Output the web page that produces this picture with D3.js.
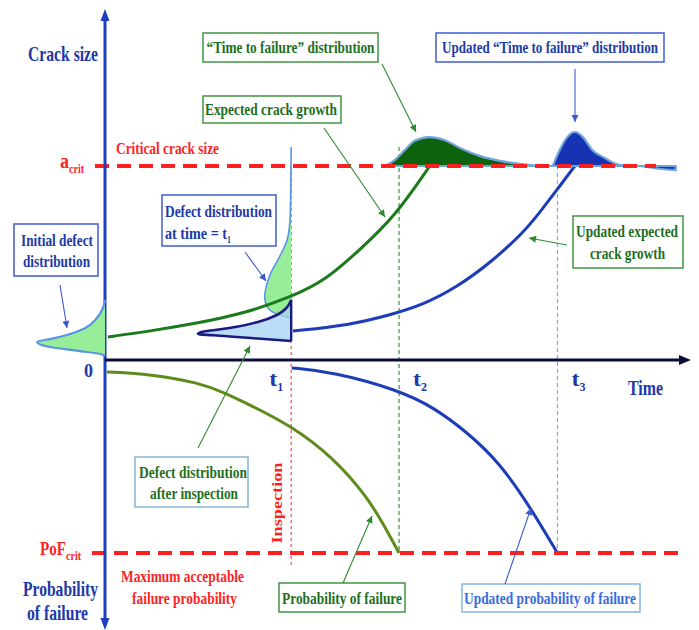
<!DOCTYPE html>
<html><head><meta charset="utf-8">
<script src="https://cdn.jsdelivr.net/npm/d3@7"></script>
<style>
body{margin:0;background:#fff}
svg{display:block}
</style>
</head><body><svg id="c" width="699" height="630"></svg>
<script>
// ================= DATA =================
const timeMarks  = [32.1, 50.7, 78.0];      // t1 (inspection), t2, t3
const timeSubs   = ["1", "2", "3"];
const aCrit = 1.0, pofCrit = 1.0;

// expected crack growth (time, crack size relative to a_crit)
const crackTime = [0.5, 8, 16, 24, 32.1, 38, 44, 50, 56];
const crackSize = [0.119, 0.15, 0.19, 0.24, 0.325, 0.41, 0.57, 0.74, 1.0];
// updated expected crack growth
const updCrackTime = [32.4, 42.2, 49.1, 54.8, 60.7, 66.4, 72.1, 75.0, 77.9, 81.0];
const updCrackSize = [0.149, 0.180, 0.232, 0.284, 0.376, 0.500, 0.655, 0.763, 0.876, 1.0];
// probability of failure (relative to PoF_crit)
const pofTime  = [0.34, 7.76, 16.4, 20.7, 25.0, 31.9, 39.3, 45.2, 47.9, 50.7];
const pofValue = [0.062, 0.073, 0.119, 0.171, 0.233, 0.337, 0.503, 0.71, 0.845, 1.0];
// updated probability of failure
const updPofTime  = [32.2, 39.3, 50.5, 56.6, 62.4, 68.1, 73.3, 78.0];
const updPofValue = [0.041, 0.062, 0.155, 0.244, 0.373, 0.534, 0.762, 1.0];

// initial defect distribution (crack size, density)
const initDefSize = [0.021, 0.031, 0.046, 0.067, 0.093, 0.113, 0.139, 0.165, 0.216, 0.268, 0.309];
const initDefDens = [0, 0.07, 0.37, 0.81, 1.0, 0.74, 0.47, 0.29, 0.12, 0.03, 0];
// defect distribution at time t1
const t1DefSize = [0.216, 0.232, 0.273, 0.325, 0.387, 0.448, 0.526, 0.619, 0.722, 0.876, 1.098];
const t1DefDens = [0, 0.17, 0.35, 0.39, 0.36, 0.3, 0.18, 0.06, 0.018, 0.006, 0];
// defect distribution after inspection
const inspDefSize = [0.098, 0.113, 0.124, 0.134, 0.144, 0.155, 0.170, 0.196, 0.232, 0.268, 0.309];
const inspDefDens = [0, 0.59, 0.99, 1.37, 1.32, 1.12, 0.82, 0.49, 0.21, 0.07, 0];
// time to failure distribution
const ttfTime = [48.3, 50.0, 51.7, 53.4, 55.9, 58.6, 61.2, 64.7, 68.1, 71.6, 75.9, 77.2];
const ttfDens = [0, 0.18, 0.47, 0.74, 0.85, 0.76, 0.53, 0.29, 0.15, 0.06, 0, 0];
// updated time to failure distribution
const updTtfTime = [77.2, 78.4, 79.7, 81.0, 82.4, 84.0, 85.9, 88.8, 92.2, 95.5, 98.4];
const updTtfDens = [0, 0.47, 0.85, 1.0, 0.85, 0.47, 0.26, 0.03, 0, -0.08, -0.12];

// ================= SCALES =================
const svg = d3.select("#c");
const FONT = "'Liberation Serif','DejaVu Serif','Times New Roman',serif";
const x   = d3.scaleLinear().domain([0, 100]).range([105, 685]);     // time
const yA  = d3.scaleLinear().domain([0, aCrit]).range([360, 166]);    // crack size
const yP  = d3.scaleLinear().domain([0, pofCrit]).range([360, 553]);  // probability of failure (downwards)
const wD  = d3.scaleLinear().domain([0, 1]).range([0, 68]);           // defect density width
const hT  = d3.scaleLinear().domain([0, 1]).range([0, 34]);           // ttf density height

const C = {
  axisBlue: "#1c3fc2", navy: "#0c0c38", red: "#ff1f1f",
  green: "#1b7a1b", olive: "#5e8c1a", blue: "#1c3cb8",
  txtBlue: "#2038a8", txtGreen: "#1e6e1e"
};
const zip = (a, b) => a.map((v, i) => [v, b[i]]);

// markers
const defs = svg.append("defs");
function marker(id, color, w, h) {
  defs.append("marker").attr("id", id).attr("viewBox", "0 0 10 10")
    .attr("refX", 10).attr("refY", 5).attr("markerWidth", w).attr("markerHeight", h)
    .attr("markerUnits", "userSpaceOnUse").attr("orient", "auto")
    .append("path").attr("d", "M0,0L10,5L0,10Z").attr("fill", color);
}
marker("mg", "#2e8a2e", 9, 7);
marker("mb", "#3a5ad0", 9, 7);

// ================= VERTICAL MARKER LINES =================
const [t1, t2, t3] = timeMarks;
svg.append("line").attr("x1", x(t1)).attr("x2", x(t1)).attr("y1", yA(aCrit)).attr("y2", 567)
  .attr("stroke", "#ff3a3a").attr("stroke-width", 1.1).attr("stroke-dasharray", "3,3");
svg.append("line").attr("x1", x(t2)).attr("x2", x(t2)).attr("y1", 147).attr("y2", yP(pofCrit))
  .attr("stroke", "#2a8a2a").attr("stroke-width", 1.1).attr("stroke-dasharray", "4,3");
svg.append("line").attr("x1", x(t3)).attr("x2", x(t3)).attr("y1", yA(aCrit)).attr("y2", yP(pofCrit))
  .attr("stroke", "#7aa6dc").attr("stroke-width", 1.1).attr("stroke-dasharray", "4,3");

// ================= DEFECT DISTRIBUTIONS =================
function vertDist(sizes, dens, base, fill, stroke, sw, fillOp) {
  const pts = zip(sizes, dens);
  const area = d3.area().curve(d3.curveMonotoneY).y(d => yA(d[0])).x0(base).x1(d => base - wD(d[1]));
  const line = d3.line().curve(d3.curveMonotoneY).y(d => yA(d[0])).x(d => base - wD(d[1]));
  svg.append("path").attr("d", area(pts)).attr("fill", fill).attr("fill-opacity", fillOp);
  svg.append("path").attr("d", line(pts)).attr("fill", "none").attr("stroke", stroke).attr("stroke-width", sw);
}
vertDist(t1DefSize, t1DefDens, x(t1), "#98ee98", "#5b93e6", 1.6, 1);
vertDist(inspDefSize, inspDefDens, x(t1), "#a6d2f2", "#1a1a80", 2.6, 0.78);
svg.append("line").attr("x1", x(t1)).attr("x2", x(t1))
  .attr("y1", yA(d3.min(inspDefSize))).attr("y2", yA(0.31))
  .attr("stroke", "#1a1a80").attr("stroke-width", 2.4);

// ================= CURVES =================
const lineA = d3.line().curve(d3.curveBasis).x(d => x(d[0])).y(d => yA(d[1]));
const lineP = d3.line().curve(d3.curveBasis).x(d => x(d[0])).y(d => yP(d[1]));
svg.append("path").attr("d", lineA(zip(crackTime, crackSize))).attr("fill", "none").attr("stroke", C.green).attr("stroke-width", 3);
svg.append("path").attr("d", lineA(zip(updCrackTime, updCrackSize))).attr("fill", "none").attr("stroke", C.blue).attr("stroke-width", 3);
svg.append("path").attr("d", lineP(zip(pofTime, pofValue))).attr("fill", "none").attr("stroke", C.olive).attr("stroke-width", 3);
svg.append("path").attr("d", lineP(zip(updPofTime, updPofValue))).attr("fill", "none").attr("stroke", C.blue).attr("stroke-width", 3);

// ================= TIME TO FAILURE DISTRIBUTIONS =================
function horDist(times, dens, fill) {
  const pts = zip(times, dens);
  const base = yA(aCrit);
  const area = d3.area().curve(d3.curveMonotoneX).x(d => x(d[0])).y0(base).y1(d => base - hT(d[1]));
  svg.append("path").attr("d", area(pts)).attr("fill", fill)
    .attr("stroke", "#6fa3dc").attr("stroke-width", 2.2).attr("stroke-linejoin", "round");
}
horDist(ttfTime, ttfDens, "#0e620e");
horDist(updTtfTime, updTtfDens, "#1633b4");

// ================= CRITICAL LEVELS =================
svg.append("line").attr("x1", 95).attr("x2", 656).attr("y1", yA(aCrit)).attr("y2", yA(aCrit))
  .attr("stroke", C.red).attr("stroke-width", 4).attr("stroke-dasharray", "14,8");
svg.append("line").attr("x1", 92).attr("x2", 686).attr("y1", yP(pofCrit)).attr("y2", yP(pofCrit))
  .attr("stroke", C.red).attr("stroke-width", 4).attr("stroke-dasharray", "14,8");

// ================= AXES =================
const x0 = x(0), y0 = yA(0);
svg.append("line").attr("x1", x0).attr("x2", x0).attr("y1", 18).attr("y2", 622)
  .attr("stroke", C.axisBlue).attr("stroke-width", 3);
svg.append("path").attr("d", `M${x0},9L${x0 - 4.5},21L${x0 + 4.5},21Z`).attr("fill", C.axisBlue);
svg.append("path").attr("d", `M${x0},630L${x0 - 4.5},618L${x0 + 4.5},618Z`).attr("fill", C.axisBlue);
svg.append("line").attr("x1", x0).attr("x2", 682).attr("y1", y0).attr("y2", y0)
  .attr("stroke", C.navy).attr("stroke-width", 3.2);
svg.append("path").attr("d", `M691,${y0}L679,${y0 - 5}L679,${y0 + 5}Z`).attr("fill", C.navy);

// initial defect distribution (left of crack-size axis)
vertDist(initDefSize, initDefDens, x0, "#98ee98", "#5b93e6", 2.2, 1);

// ================= TEXT =================
function txt(s, px, py, size, color, width, anchor) {
  const t = svg.append("text").attr("x", px).attr("y", py).attr("font-size", size)
    .attr("font-family", FONT).attr("font-weight", "bold")
    .attr("fill", color).attr("text-anchor", anchor || "start").text(s);
  if (width) t.attr("textLength", width).attr("lengthAdjust", "spacingAndGlyphs");
  return t;
}
// text with a subscript, as one text element
function txtSub(main, sub, px, py, size, subSize, color, mainW, subW, dy) {
  const t = svg.append("text").attr("x", px).attr("y", py)
    .attr("font-family", FONT).attr("font-weight", "bold").attr("fill", color);
  t.append("tspan").attr("font-size", size).attr("textLength", mainW)
    .attr("lengthAdjust", "spacingAndGlyphs").text(main);
  t.append("tspan").attr("font-size", subSize).attr("dy", dy).attr("textLength", subW)
    .attr("lengthAdjust", "spacingAndGlyphs").text(sub);
  return t;
}
function box(x1, y1, w, h, color) {
  svg.append("rect").attr("x", x1).attr("y", y1).attr("width", w).attr("height", h)
    .attr("fill", "#fff").attr("stroke", color).attr("stroke-width", 1.6);
}

// axis titles
txt("Crack size", 28, 61, 21, C.txtBlue, 70);
txt("Probability", 23, 596, 20, C.txtBlue, 75);
txt("of failure", 27, 620, 20, C.txtBlue, 61);
txt("Time", 628, 395, 20, C.txtBlue, 35);
txt("0", 84, 377, 18, C.txtBlue, 9);
timeMarks.forEach((t, i) => {
  const px = x(t) - (i === 0 ? 22 : -14);
  txtSub("t", timeSubs[i], px, 386, 20, 12, C.txtBlue, 8, 6, 5);
});

// critical levels labels
txt("Critical crack size", 116, 154, 16, C.red, 103);
txtSub("a", "crit", 60, 168, 20, 13, C.red, 9, 15, 5);
txtSub("PoF", "crit", 40, 555, 19, 13, C.red, 26, 15, 5);
txt("Maximum acceptable", 182.5, 582, 17, C.red, 123, "middle");
txt("failure probability", 184.5, 604, 17, C.red, 105, "middle");
svg.append("text").attr("transform", `translate(282,503) rotate(-90)`)
  .attr("font-family", FONT).attr("font-weight", "bold")
  .attr("text-anchor", "middle").attr("font-size", 15).attr("fill", C.red)
  .attr("textLength", 81).attr("lengthAdjust", "spacingAndGlyphs").text("Inspection");

// boxes
box(203, 33, 175, 29, "#4e9a4e");
txt("\u201CTime to failure\u201D distribution", 290.5, 53, 16, C.txtGreen, 168, "middle");
box(436, 33, 228, 29, "#4a66d6");
txt("Updated \u201CTime to failure\u201D distribution", 550, 53, 16, C.txtBlue, 216, "middle");
box(203, 96, 138, 27, "#4e9a4e");
txt("Expected crack growth", 271, 115, 16, C.txtGreen, 132, "middle");
box(162, 195, 114, 51, "#4a66d6");
txt("Defect distribution", 165, 217, 16, C.txtBlue, 107);
txtSub("at time = t", "1", 165, 239, 16, 11, C.txtBlue, 62, 4, 4);
box(14, 224, 84, 52, "#4a66d6");
txt("Initial defect", 57, 246, 16, C.txtBlue, 72, "middle");
txt("distribution", 56.5, 267, 16, C.txtBlue, 67, "middle");
box(573, 216, 110, 52, "#4e9a4e");
txt("Updated expected", 627, 237, 16, C.txtGreen, 102, "middle");
txt("crack growth", 627.5, 259, 16, C.txtGreen, 75, "middle");
box(135, 457, 113, 50, "#8dbad8");
txt("Defect distribution", 193, 478, 16, C.txtGreen, 108, "middle");
txt("after inspection", 194, 499, 16, C.txtGreen, 88, "middle");
box(279, 583, 126, 29, "#4e9a4e");
txt("Probability of failure", 342, 604, 16, C.txtGreen, 120, "middle");
box(462, 584, 178, 28, "#8dbae0");
txt("Updated probability of failure", 550, 604, 16, "#3a6ae0", 172, "middle");

// annotation arrows
function arrow(x1, y1, x2, y2, color, m) {
  svg.append("line").attr("x1", x1).attr("y1", y1).attr("x2", x2).attr("y2", y2)
    .attr("stroke", color).attr("stroke-width", 1.1).attr("marker-end", `url(#${m})`);
}
arrow(382, 64, 416, 132, "#2e8a2e", "mg");
arrow(575, 69, 575, 122, "#3a5ad0", "mb");
arrow(324, 128, 385, 217, "#2e8a2e", "mg");
arrow(245, 252, 266, 281, "#3a5ad0", "mb");
arrow(60, 285, 67, 328, "#3a5ad0", "mb");
arrow(567, 245, 529, 238, "#2e8a2e", "mg");
arrow(198, 448, 250, 346, "#2e8a2e", "mg");
arrow(343, 583, 372, 516, "#2e8a2e", "mg");
arrow(505, 584, 531, 508, "#3a5ad0", "mb");
</script>
</body></html>
